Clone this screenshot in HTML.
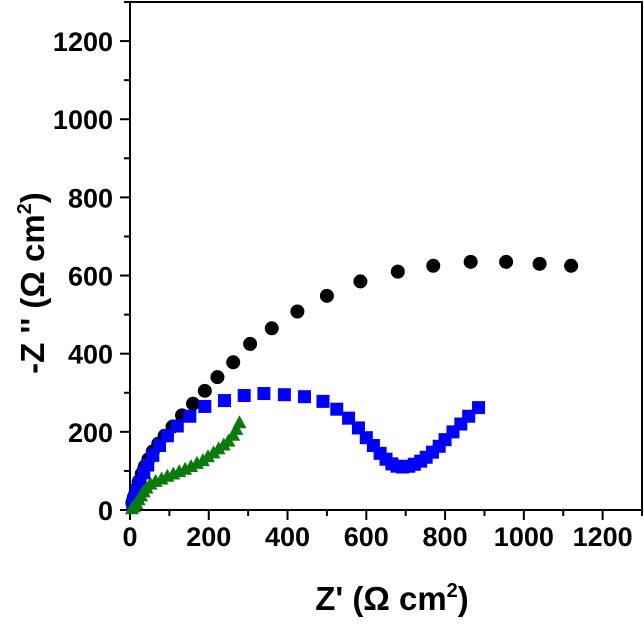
<!DOCTYPE html>
<html><head><meta charset="utf-8"><style>
html,body{margin:0;padding:0;background:#fff;}
svg text{font-family:"Liberation Sans",Arial,sans-serif;font-weight:bold;fill:#000;}
</style></head><body>
<svg id="chart" width="644" height="619" xmlns="http://www.w3.org/2000/svg"></svg>
<script>
const xTicks=[0,200,400,600,800,1000,1200];
const yTicks=[0,200,400,600,800,1000,1200];
const circX=[1120,1040,955,865,770,680,585,500,425,360,305,262,222,190,160,132,108,88,72,58,47,38,30,22,15,10,6];
const circY=[625,630,635,635,625,610,585,548,508,465,425,378,340,305,272,242,213,190,170,150,130,112,93,72,52,33,18];
const sqX=[885,860,840,820,800,785,768,752,738,722,708,692,678,665,650,635,618,600,580,555,525,490,443,392,340,290,240,190,152,120,95,75,58,45,35,25,18,12,7];
const sqY=[262,240,220,200,180,163,148,135,125,117,112,110,112,118,130,145,165,185,210,235,258,278,290,295,298,293,280,265,240,215,190,165,140,115,95,70,50,30,15];
const triX=[278,270,262,250,238,225,212,198,185,170,155,140,125,110,95,80,65,52,42,35,28,22,16,10,5];
const triY=[222,205,190,175,165,155,145,135,125,118,110,103,97,91,85,78,72,65,55,45,35,25,15,7,2];
const L=130,R=642,T=2,B=510,MAX=1300;
const sx=v=>L+(R-L)*v/MAX, sy=v=>B-(B-T)*v/MAX;
const svg=document.getElementById('chart');const NS='http://www.w3.org/2000/svg';
function mk(t,a,p){const e=document.createElementNS(NS,t);for(const k in a)e.setAttribute(k,a[k]);(p||svg).appendChild(e);return e;}
const frame=mk('rect',{x:L,y:T,width:R-L,height:B-T,fill:'none',stroke:'#000','stroke-width':2});


for(let v=0;v<=MAX;v+=100){
 const major=v%200===0;const len=major?10:6;
 const tx=mk('line',{x1:sx(v),x2:sx(v),y1:B,y2:B+len,stroke:'#000','stroke-width':2});
 
 
 const ty=mk('line',{x1:L-len,x2:L,y1:sy(v),y2:sy(v),stroke:'#000','stroke-width':2});
 
 
}
xTicks.forEach(v=>{const t=mk('text',{x:sx(v),y:B+36,'font-size':27,'text-anchor':'middle'});t.textContent=v;
 
 });
yTicks.forEach(v=>{const t=mk('text',{x:L-17,y:sy(v)+10,'font-size':27,'text-anchor':'end'});t.textContent=v;
 
 });
const xt=mk('text',{x:392,y:610,'font-size':33,'text-anchor':'middle'});
xt.innerHTML="Z' (Ω cm<tspan dy='-13' font-size='20'>2</tspan><tspan dy='13'>)</tspan>";


const yt=mk('text',{x:0,y:0,'font-size':33,'text-anchor':'middle',transform:'translate(44,283) rotate(-90)'});
yt.innerHTML="-Z '' (Ω cm<tspan dy='-13' font-size='20'>2</tspan><tspan dy='13'>)</tspan>";


const gC=mk('g',{});
const gS=mk('g',{});
const gT=mk('g',{});
circX.forEach((x,i)=>{const c=mk('circle',{cx:sx(x),cy:sy(circY[i]),r:7,fill:'#000'},gC);
 
 });
sqX.forEach((x,i)=>{const s=mk('rect',{x:sx(x)-6.5,y:sy(sqY[i])-6.5,width:13,height:13,fill:'#0000ff'},gS);
 
 });
triX.forEach((x,i)=>{const cx=sx(x),cy=sy(triY[i]);const p=mk('polygon',{points:`${cx},${cy-8} ${cx-7},${cy+5} ${cx+7},${cy+5}`,fill:'#0a7a0a'},gT);
 
 });
</script>
</body></html>
